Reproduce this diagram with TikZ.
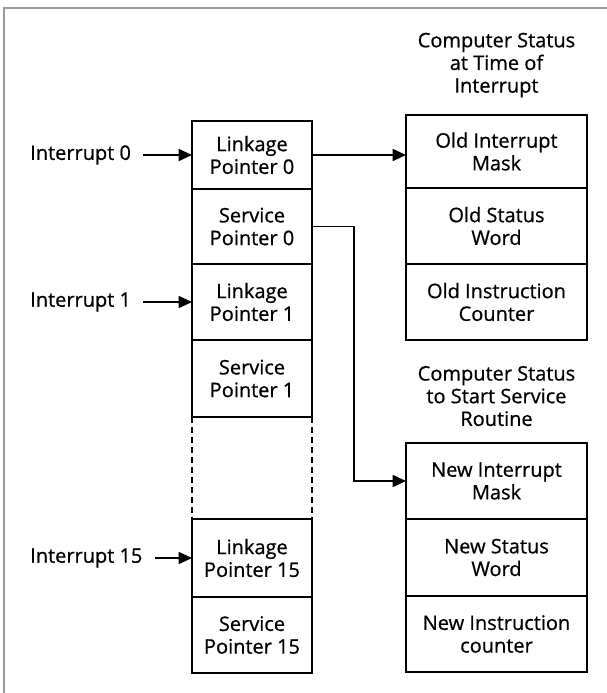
\documentclass[tikz,border=0pt]{standalone}
\usepackage{fontspec}
\setmainfont{Open Sans}[FakeBold=0.7]
\usetikzlibrary{positioning, arrows.meta}

\begin{document}
\begin{tikzpicture}[x=0.75pt, y=-0.75pt, node distance=0pt,
  cell/.style={draw, line width=1.3pt, minimum height=57pt, inner sep=0pt, outer sep=0pt, align=center, font=\fontsize{15pt}{17pt}\selectfont},
  ptr/.style={cell, minimum width=90pt},
  stat/.style={cell, minimum width=135.75pt},
  lbl/.style={inner sep=0pt, font=\fontsize{15pt}{17pt}\selectfont},
  ttl/.style={lbl, align=center},
  arr/.style={-{Triangle[length=10pt, width=9pt]}, line width=1.3pt}]
  \useasboundingbox (0,0) rectangle (607,693);
  \draw[gray!80, line width=1.2pt] (4,693) -- (4,8) -- (607,8);
  \node[ptr, anchor=north west, minimum height=51pt] (lp0) at (192,121) {Linkage\\Pointer 0};
  \node[ptr, below=of lp0, minimum height=56.25pt] (sp0) {Service\\Pointer 0};
  \node[ptr, below=of sp0] (lp1) {Linkage\\Pointer 1};
  \node[ptr, below=of lp1, minimum height=57.75pt] (sp1) {Service\\Pointer 1};
  \node[ptr, anchor=north west, minimum height=58.5pt] (lp15) at (192,519) {Linkage\\Pointer 15};
  \node[ptr, below=of lp15] (sp15) {Service\\Pointer 15};
  \draw[line width=1.3pt, dash pattern=on 4.5pt off 3pt] (sp1.south west) -- (lp15.north west) (sp1.south east) -- (lp15.north east);
  \node[stat, anchor=north west, minimum height=54.75pt] (omask) at (406,115) {Old Interrupt\\Mask};
  \node[stat, below=of omask] (ostat) {Old Status\\Word};
  \node[stat, below=of ostat] (ocnt) {Old Instruction\\Counter};
  \node[stat, anchor=north west] (nmask) at (406,443) {New Interrupt\\Mask};
  \node[stat, below=of nmask, minimum height=57.75pt] (nstat) {New Status\\Word};
  \node[stat, below=of nstat] (ncnt) {New Instruction\\counter};
  \node[ttl, above=13pt of omask] (ottl) {Computer Status\\at Time of\\Interrupt};
  \node[ttl, above=12.5pt of nmask] (nttl) {Computer Status\\to Start Service\\Routine};
  \node[lbl, anchor=west] (int0) at (30,155) {Interrupt 0};
  \node[lbl, anchor=west] (int1) at (30,302) {Interrupt 1};
  \node[lbl, anchor=west] (int15) at (30,558) {Interrupt 15};
  \draw[arr, shorten <=9pt] (int0) -- (lp0);
  \draw[arr, shorten <=9pt] (int1) -- (lp1);
  \draw[arr, shorten <=9pt] (int15) -- (lp15);
  \draw[arr] (lp0.east) -- (lp0.east -| omask.west);
  \coordinate (turn) at (354,300);
  \draw[arr] (sp0.east) -| (turn) |- (nmask.west);
\end{tikzpicture}
\end{document}
